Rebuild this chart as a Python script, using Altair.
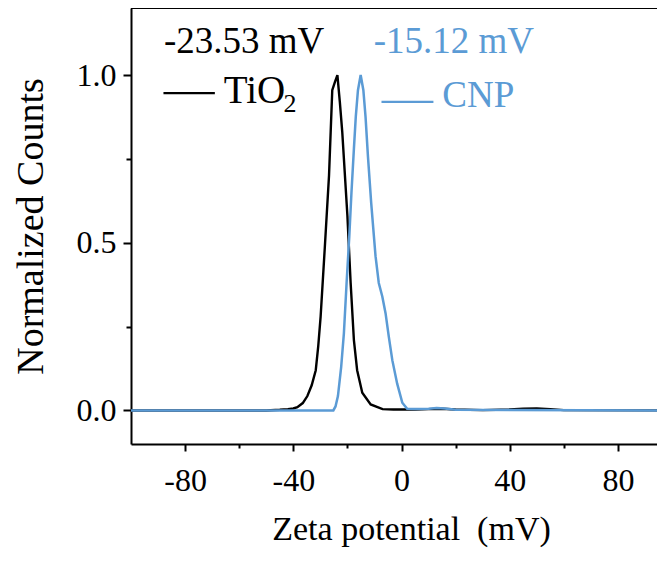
import altair as alt
import pandas as pd

# TiO2 series (black)
tio2_x = [-100, -50, -45, -42, -40, -38.5, -36.5, -34.8, -33.2, -31.7, -30.8, -29.9, -28.4, -26.8,
          -25.6, -24.6, -23.7, -22.8, -21.9, -20.0, -18.8, -17.6, -16.4, -14.5, -11.4, -7, -3, 0,
          5, 10, 15, 20, 30, 40, 45, 50, 55, 60, 100]
tio2_y = [0, 0, 0.002, 0.004, 0.006, 0.01, 0.022, 0.043, 0.075, 0.12, 0.19, 0.28, 0.48, 0.70,
          0.955, 0.98, 1.0, 0.92, 0.83, 0.58, 0.38, 0.21, 0.12, 0.053, 0.018, 0.004, 0.003, 0.003,
          0.003, 0.004, 0.005, 0.003, 0.001, 0.003, 0.005, 0.006, 0.004, 0.001, 0]

# CNP series (blue)
cnp_x = [-100, -25.2, -24.4, -23.5, -22.3, -21.3, -20.3, -19.3, -18.5, -17.6, -16.9, -16.1, -15.1,
         -14.1, -13.3, -12.4, -11.2, -10.2, -9.6, -8.4, -7.1, -5.9, -4.7, -3.4, -1.6, 0.3, 2.1,
         5, 10, 13, 16, 20, 100]
cnp_y = [0, 0, 0.012, 0.043, 0.13, 0.23, 0.38, 0.52, 0.65, 0.78, 0.876, 0.955, 1.0,
         0.955, 0.876, 0.757, 0.618, 0.519, 0.46, 0.38, 0.34, 0.29, 0.22, 0.15, 0.08, 0.023, 0.005,
         0.004, 0.005, 0.007, 0.006, 0.002, 0]

x_ticks = [-80, -60, -40, -20, 0, 20, 40, 60, 80]
y_ticks = [0, 0.25, 0.5, 0.75, 1.0]

BLACK = "#000000"
BLUE = "#5b9bd5"
FONT = "Liberation Serif"

tio2 = pd.DataFrame({"x": tio2_x, "y": tio2_y})
cnp = pd.DataFrame({"x": cnp_x, "y": cnp_y})

# the reference figure is cut at the right edge, before x = 100
W, H = 526, 436

xscale = alt.Scale(domain=[-100, 94.45], nice=False, zero=False)
yscale = alt.Scale(domain=[-0.1, 1.2], nice=False, zero=False)

xaxis = alt.Axis(
    title="Zeta potential\u00a0 (mV)",
    titleX=280,
    values=x_ticks,
    labelExpr="datum.value % 40 === 0 ? '' + datum.value : ''",
    tickSize={"condition": {"test": "datum.value % 40 === 0", "value": 7}, "value": 4},
    grid=False,
)
yaxis = alt.Axis(
    title="Normalized Counts",
    values=y_ticks,
    labelExpr="(datum.value * 2) % 1 === 0 ? format(datum.value, '.1f') : ''",
    tickSize={"condition": {"test": "(datum.value * 2) % 1 === 0", "value": 8}, "value": 5},
    grid=False,
)

black_line = alt.Chart(tio2).mark_line(color=BLACK, strokeWidth=2.4, clip=True).encode(
    x=alt.X("x:Q", scale=xscale, axis=xaxis),
    y=alt.Y("y:Q", scale=yscale, axis=yaxis),
)
blue_line = alt.Chart(cnp).mark_line(color=BLUE, strokeWidth=2.5, clip=True).encode(
    x=alt.X("x:Q"),
    y=alt.Y("y:Q"),
)

top_border = alt.Chart().mark_rule(color=BLACK, strokeWidth=2).encode(
    x=alt.value(0), x2=alt.value(W), y=alt.value(0)
)

def label(txt, x, y, color, size=37):
    return alt.Chart().mark_text(
        text=txt, align="left", baseline="alphabetic", font=FONT, fontSize=size, color=color
    ).encode(x=alt.datum(x), y=alt.datum(y))

def leg_rule(x1, x2, y, color):
    return alt.Chart().mark_rule(color=color, strokeWidth=2.2).encode(
        x=alt.datum(x1), x2=alt.datum(x2), y=alt.datum(y)
    )

chart = alt.layer(
    black_line,
    blue_line,
    top_border,
    label("-23.53 mV", -87.8, 1.065, BLACK),
    label("-15.12 mV", -10.3, 1.065, BLUE),
    leg_rule(-88, -69, 0.946, BLACK),
    label("TiO", -65.7, 0.917, BLACK, 39),
    label("2", -43.6, 0.89, BLACK, 26),
    leg_rule(-7.4, 11.8, 0.92, BLUE),
    label("CNP", 15.1, 0.905, BLUE),
).properties(
    width=W,
    height=H,
    autosize=alt.AutoSizeParams(type="none"),
    padding={"left": 123, "top": 0, "right": 0, "bottom": 109},
).configure_view(
    stroke=None
).configure_axis(
    domainColor=BLACK, domainWidth=2, tickColor=BLACK, tickWidth=2,
    labelFont=FONT, labelFontSize=32, labelColor=BLACK,
    titleFont=FONT, titleFontSize=34, titleFontWeight="normal", titleColor=BLACK,
).configure_axisX(labelPadding=14, titlePadding=16).configure_axisY(
    labelPadding=7, titleFontSize=38, titlePadding=26
)

chart.save("out.html", embed_options={"renderer": "svg", "actions": False})
